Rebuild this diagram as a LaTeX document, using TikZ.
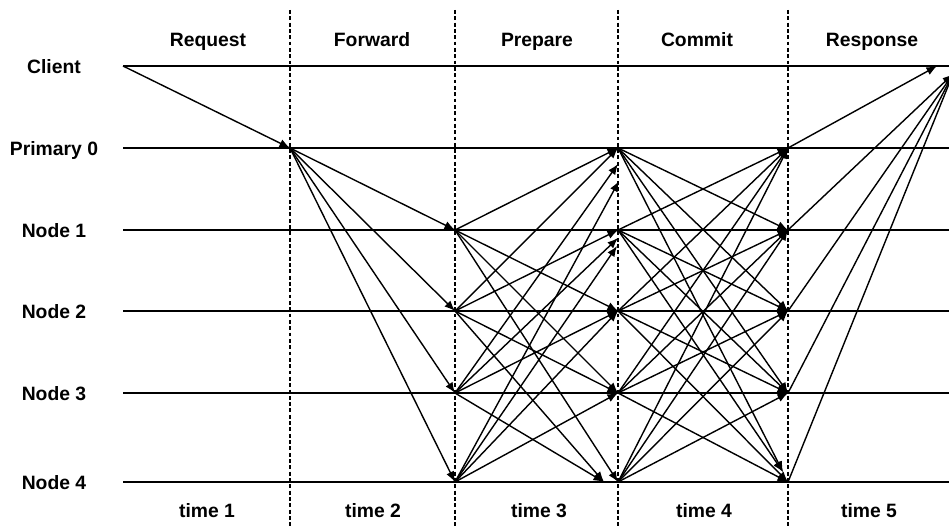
\documentclass[tikz,border=0pt]{standalone}
\usepackage{fontspec}
\setmainfont{Liberation Sans}
\usetikzlibrary{arrows.meta}
\begin{document}
\begin{tikzpicture}[x=0.02cm,y=-0.02cm,
  timeline/.style={line width=1.1pt},
  phase/.style={dash pattern=on 2.2pt off 1.4pt, line width=0.85pt},
  msg/.style={line width=0.8pt, -{Latex[length=6pt,width=4.8pt]}},
  lbl/.style={font=\fontsize{11}{13}\selectfont\bfseries, inner sep=0pt, anchor=base}]
\useasboundingbox (0,0) rectangle (949,527);

% replica time lines with their names
\foreach \n/\y/\t in {cl/66/Client, n0/148/Primary 0, n1/230/Node 1,
                      n2/311/Node 2, n3/393/Node 3, n4/482/Node 4} {
  \node[lbl] (\n-lbl) at (54,\y+7) {\t};
  \coordinate (\n-s) at (123,\y);
  \coordinate (\n-e) at (949,\y);
  \foreach \c/\x in {1/290,2/455,3/618,4/788}
    {\coordinate (\n-\c) at (\x,\y);}
  \draw[timeline] (\n-s) -- (\n-e);
}

% phase boundaries
\foreach \c/\x in {1/290,2/455,3/618,4/788} {
  \coordinate (v\c-top) at (\x,10);
  \coordinate (v\c-bot) at (\x,527);
  \draw[phase] (v\c-top) -- (v\c-bot);
}

% phase names and time slots
\foreach \k/\x/\p/\s/\tx in {1/208/Request/time 1/207, 2/372/Forward/time 2/373,
                         3/537/Prepare/time 3/539, 4/697/Commit/time 4/704,
                         5/872/Response/time 5/869} {
  \node[lbl] (phase\k) at (\x,47) {\p};
  \node[lbl] (time\k) at (\tx,517) {\s};
}

% arrow ends that land off the crossing points
\coordinate (n0-3b) at (618,164);
\coordinate (n0-3c) at (619,181);
\coordinate (n1-3b) at (618,238);
\coordinate (n1-3c) at (617,246);
\coordinate (n4-3b) at (604,482);
\coordinate (n4-4b) at (783,472);
\coordinate (cl-r1) at (937,66);
\coordinate (cl-r2) at (953,74);

% request
\draw[msg] (cl-s) -- (n0-1);

% forward (pre-prepare)
\foreach \j in {1,...,4}
  {\draw[msg] (n0-1) -- (n\j-2);}

% prepare
\draw[msg] (n1-2) -- (n0-3);
\draw[msg] (n2-2) -- (n0-3);
\draw[msg] (n3-2) -- (n0-3b);
\draw[msg] (n4-2) -- (n0-3c);
\draw[msg] (n2-2) -- (n1-3);
\draw[msg] (n3-2) -- (n1-3b);
\draw[msg] (n4-2) -- (n1-3c);
\draw[msg] (n1-2) -- (n2-3);
\draw[msg] (n3-2) -- (n2-3);
\draw[msg] (n4-2) -- (n2-3);
\draw[msg] (n1-2) -- (n3-3);
\draw[msg] (n2-2) -- (n3-3);
\draw[msg] (n4-2) -- (n3-3);
\draw[msg] (n1-2) -- (n4-3);
\draw[msg] (n2-2) -- (n4-3b);
\draw[msg] (n3-2) -- (n4-3b);

% commit
\foreach \i in {0,...,4} {
  \foreach \j in {0,...,3} {
    \ifnum\i=\j\relax\else\draw[msg] (n\i-3) -- (n\j-4);\fi
  }
}
\draw[msg] (n0-3) -- (n4-4b);
\draw[msg] (n1-3) -- (n4-4b);
\draw[msg] (n2-3) -- (n4-4);
\draw[msg] (n3-3) -- (n4-4);

% response
\draw[msg] (n0-4) -- (cl-r1);
\foreach \i in {1,...,4}
  {\draw[msg] (n\i-4) -- (cl-r2);}
\end{tikzpicture}
\end{document}
